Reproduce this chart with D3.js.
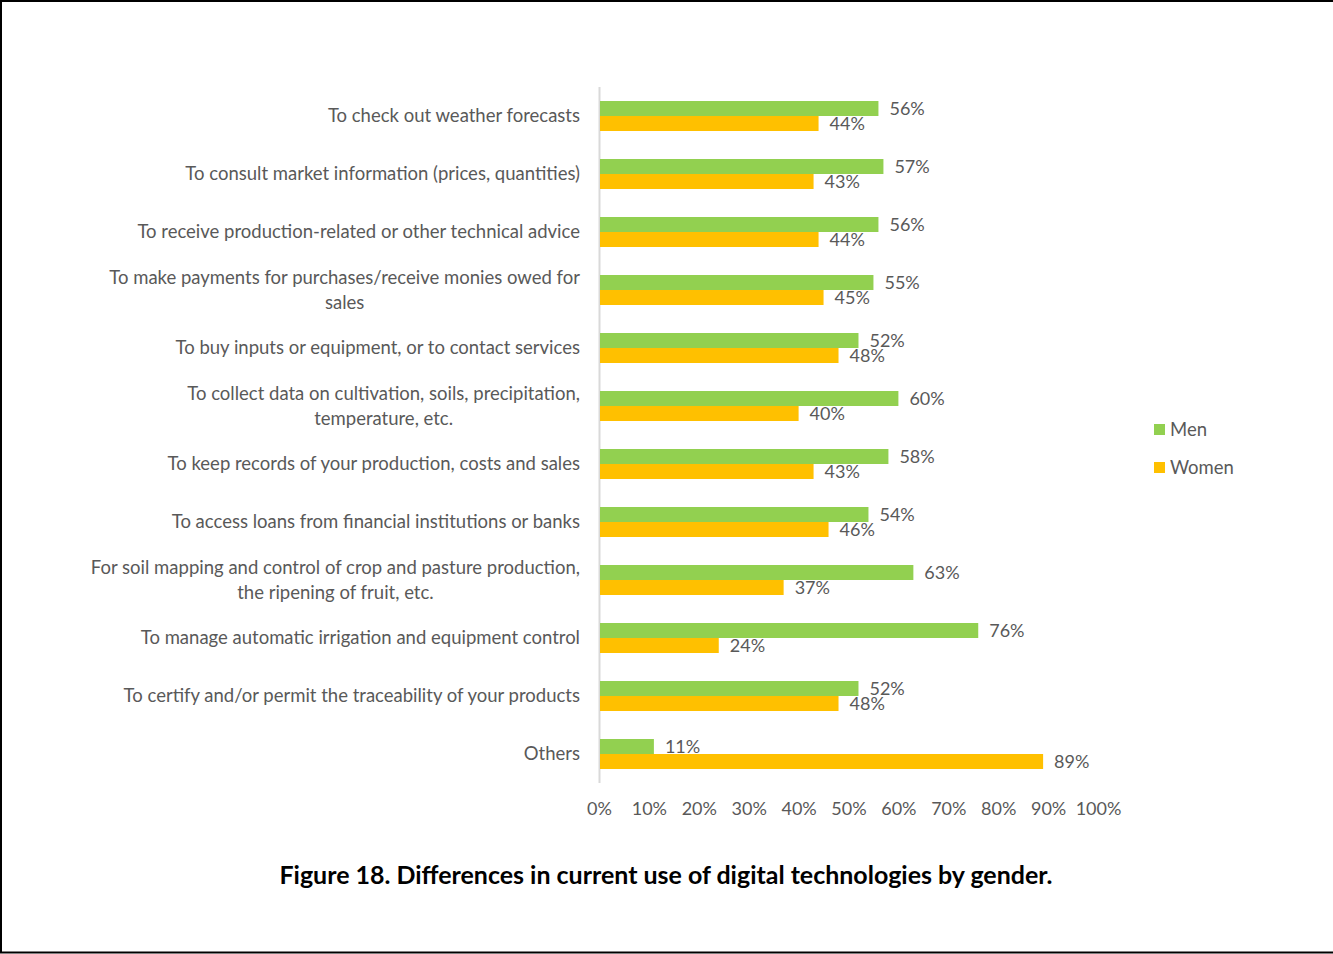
<!DOCTYPE html>
<html><head><meta charset="utf-8">
<script src="https://cdn.jsdelivr.net/npm/d3@7"></script>
<style>body{margin:0;background:#fff}svg{display:block}</style>
</head><body>
<script>
const categories = [
  "To check out weather forecasts",
  "To consult market information (prices, quantities)",
  "To receive production-related or other technical advice",
  "To make payments for purchases/receive monies owed for|sales",
  "To buy inputs or equipment, or to contact services",
  "To collect data on cultivation, soils, precipitation,|temperature, etc.",
  "To keep records of your production, costs and sales",
  "To access loans from financial institutions or banks",
  "For soil mapping and control of crop and pasture production,|the ripening of fruit, etc.",
  "To manage automatic irrigation and equipment control",
  "To certify and/or permit the traceability of your products",
  "Others"
];
const men   = [56, 57, 56, 55, 52, 60, 58, 54, 63, 76, 52, 11];
const women = [44, 43, 44, 45, 48, 40, 43, 46, 37, 24, 48, 89];
const seriesNames = ["Men", "Women"];
const seriesColors = ["#92D050", "#FFC000"];
const xTicks = [0,10,20,30,40,50,60,70,80,90,100];
const title = "Figure 18. Differences in current use of digital technologies by gender.";

const W = 1333, H = 954;
const font = "Lato, 'Open Sans', sans-serif";
const catSize = 18.5, valSize = 18;
const svg = d3.select("body").append("svg").attr("width", W).attr("height", H);
svg.append("rect").attr("width", W).attr("height", H).attr("fill", "#fff");

// frame
svg.append("path").attr("d", `M1,${H-1.5} L1,1 L${W},1`).attr("fill","none").attr("stroke","#000").attr("stroke-width",2);
svg.append("line").attr("x1",0).attr("x2",W).attr("y1",H-1.5).attr("y2",H-1.5).attr("stroke","#000").attr("stroke-width",2);

const x = d3.scaleLinear().domain([0,100]).range([599,1098]);
const y = d3.scaleBand().domain(categories).range([87,783]).paddingInner(28/58).paddingOuter(14/58);
const sub = d3.scaleBand().domain(seriesNames).range([0, y.bandwidth()]);
const valueSets = [men, women];

// axis line
svg.append("line").attr("x1",x(0)+0.5).attr("x2",x(0)+0.5).attr("y1",87).attr("y2",783)
  .attr("stroke","#d9d9d9").attr("stroke-width",2);

const rows = categories.map((c,i)=>({c, i}));
seriesNames.forEach((s, si) => {
  const g = svg.append("g");
  g.selectAll("rect").data(rows).join("rect")
    .attr("x", x(0)+1)
    .attr("y", d => y(d.c) + sub(s))
    .attr("width", d => x(valueSets[si][d.i]) - x(0) - 1)
    .attr("height", sub.bandwidth())
    .attr("fill", seriesColors[si]);
  g.selectAll("text").data(rows).join("text")
    .attr("x", d => x(valueSets[si][d.i]) + 11)
    .attr("y", d => y(d.c) + sub(s) + sub.bandwidth()/2)
    .attr("dy", "0.35em")
    .attr("font-family", font).attr("font-size", valSize).attr("fill", "#595959")
    .text(d => valueSets[si][d.i] + "%");
});

// category labels
rows.forEach(d => {
  const lines = d.c.split("|");
  const cy = y(d.c) + y.bandwidth()/2;
  const t = svg.append("text").attr("font-family", font).attr("font-size", catSize).attr("fill", "#595959");
  if (lines.length === 1) {
    t.attr("x", 580).attr("y", cy).attr("dy","0.35em").attr("text-anchor","end").text(lines[0]);
  } else {
    const tmp = svg.append("text").attr("font-family", font).attr("font-size", catSize).text(lines[0]);
    const w = tmp.node().getComputedTextLength(); tmp.remove();
    const cx = 580 - w/2;
    lines.forEach((ln, k) => {
      t.append("tspan").attr("x", cx).attr("y", cy + (k - (lines.length-1)/2)*25).attr("dy","0.35em")
        .attr("text-anchor","middle").text(ln);
    });
  }
});

// x axis tick labels
const xAxis = d3.axisBottom(x).tickValues(xTicks).tickFormat(d => d + "%").tickSize(0).tickPadding(0);
const ax = svg.append("g").attr("transform", "translate(0,802)").call(xAxis);
ax.select(".domain").remove();
ax.selectAll("text").attr("font-family", font).attr("font-size", valSize).attr("fill", "#595959").attr("dy","0.71em");

// legend
const leg = svg.append("g");
seriesNames.forEach((s, i) => {
  const ly = 430 + i*38;
  leg.append("rect").attr("x",1154).attr("y",ly-6).attr("width",11).attr("height",11).attr("fill",seriesColors[i]);
  leg.append("text").attr("x",1170).attr("y",ly).attr("dy","0.35em").attr("font-family",font).attr("font-size",catSize)
    .attr("fill","#595959").text(s);
});

// title
svg.append("text").attr("x", 666).attr("y", 876).attr("dy","0.35em").attr("text-anchor","middle")
  .attr("font-family", font).attr("font-weight","bold").attr("font-size", 24)
  .attr("textLength", 773).attr("lengthAdjust","spacingAndGlyphs").attr("fill","#000").text(title);
</script>
</body></html>
